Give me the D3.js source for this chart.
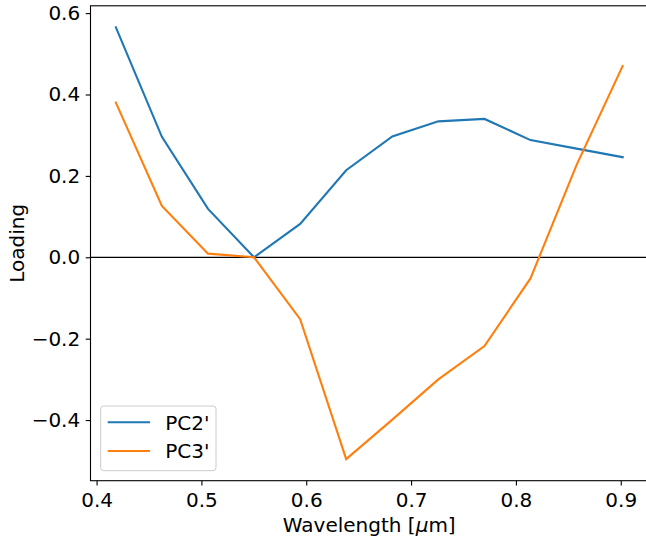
<!DOCTYPE html>
<html>
<head>
<meta charset="utf-8">
<script src="https://cdn.jsdelivr.net/npm/d3@7"></script>
<style>
  html, body { margin: 0; padding: 0; background: #ffffff; }
  svg { display: block; font-family: "DejaVu Sans", sans-serif; }
</style>
</head>
<body>
<svg id="chart" width="646" height="542"></svg>
<script>
// Band centre wavelengths in micrometres
const wavelengths = [0.4184, 0.4623, 0.5063, 0.5502, 0.5942, 0.6381, 0.6821, 0.7260, 0.7700, 0.8139, 0.8579, 0.9018];
// Loadings of the two principal components
const pc2 = [0.565, 0.296, 0.119, 0.000, 0.082, 0.214, 0.297, 0.334, 0.340, 0.288, 0.267, 0.246];
const pc3 = [0.380, 0.126, 0.009, 0.000, -0.152, -0.496, -0.399, -0.300, -0.218, -0.052, 0.227, 0.470];
const seriesNames = ["PC2'", "PC3'"];
const seriesColors = ["#1f77b4", "#ff7f0e"];
const xTicks = [0.4, 0.5, 0.6, 0.7, 0.8, 0.9];
const yTicks = [-0.4, -0.2, 0.0, 0.2, 0.4, 0.6];

const svg = d3.select("#chart");
const plotLeft = 90.5, plotRight = 648, plotTop = 5.8, plotBottom = 480.7;
const fontSize = 20;

const x = d3.scaleLinear().domain([0.3942, 0.926]).range([plotLeft, plotRight]);
const y = d3.scaleLinear().domain([-0.549, 0.618]).range([plotBottom, plotTop]);

const fmt = d => d3.format(".1f")(d).replace("-", "\u2212");

// Zero reference line
svg.append("line")
  .attr("x1", plotLeft).attr("x2", plotRight)
  .attr("y1", y(0)).attr("y2", y(0))
  .attr("stroke", "#000").attr("stroke-width", 1.2);

// Series lines
const line = d3.line().x((d, i) => x(wavelengths[i])).y(d => y(d));
[pc2, pc3].forEach((vals, k) => {
  svg.append("path")
    .datum(vals)
    .attr("d", line)
    .attr("fill", "none")
    .attr("stroke", seriesColors[k])
    .attr("stroke-width", 2.1)
    .attr("stroke-linejoin", "miter")
    .attr("stroke-linecap", "square");
});

// Axes
const xAxis = d3.axisBottom(x).tickValues(xTicks).tickFormat(fmt).tickSize(4.8).tickPadding(7);
const yAxis = d3.axisLeft(y).tickValues(yTicks).tickFormat(fmt).tickSize(4.8).tickPadding(5.5);

const gx = svg.append("g").attr("transform", `translate(0,${plotBottom})`).call(xAxis);
const gy = svg.append("g").attr("transform", `translate(${plotLeft},0)`).call(yAxis);
[gx, gy].forEach(g => {
  g.select(".domain").remove();
  g.selectAll(".tick line").attr("stroke", "#000").attr("stroke-width", 1.1);
  g.selectAll(".tick text").attr("fill", "#000")
    .style("font-size", fontSize + "px")
    .style("font-family", "DejaVu Sans, sans-serif");
});

// Frame
svg.append("rect")
  .attr("x", plotLeft).attr("y", plotTop)
  .attr("width", plotRight - plotLeft).attr("height", plotBottom - plotTop)
  .attr("fill", "none").attr("stroke", "#000").attr("stroke-width", 1.1);

// Axis labels
const xl = svg.append("text")
  .attr("x", (plotLeft + plotRight) / 2).attr("y", 531.5)
  .attr("text-anchor", "middle")
  .style("font-size", fontSize + "px");
xl.append("tspan").text("Wavelength [");
xl.append("tspan").style("font-style", "italic").text("\u03bc");
xl.append("tspan").text("m]");

svg.append("text")
  .attr("transform", `translate(23.5,${(plotTop + plotBottom) / 2}) rotate(-90)`)
  .attr("text-anchor", "middle")
  .style("font-size", fontSize + "px")
  .text("Loading");

// Legend
const lg = svg.append("g");
lg.append("rect")
  .attr("x", 100.7).attr("y", 406).attr("width", 115.3).attr("height", 64.7)
  .attr("rx", 3).attr("ry", 3)
  .attr("fill", "#fff").attr("fill-opacity", 0.8)
  .attr("stroke", "#cccccc").attr("stroke-width", 1);
seriesNames.forEach((name, k) => {
  const cy = 422.3 + k * 28.7;
  lg.append("line")
    .attr("x1", 107.7).attr("x2", 150)
    .attr("y1", cy).attr("y2", cy)
    .attr("stroke", seriesColors[k]).attr("stroke-width", 2.1);
  lg.append("text")
    .attr("x", 165.3).attr("y", cy + 7.3)
    .style("font-size", fontSize + "px")
    .text(name);
});
</script>
</body>
</html>
